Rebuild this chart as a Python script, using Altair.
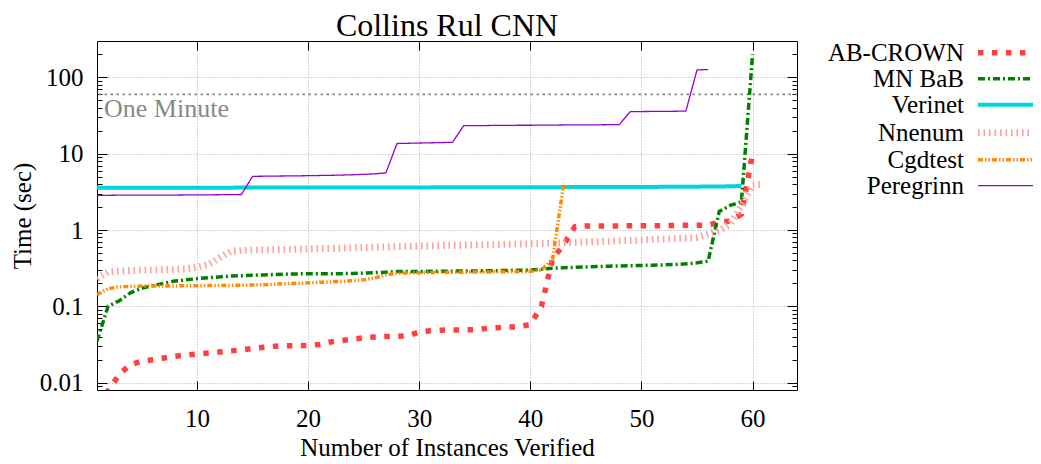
import altair as alt
import pandas as pd

TITLE = "Collins Rul CNN"
X_TITLE = "Number of Instances Verified"
Y_TITLE = "Time (sec)"
SERIES = ["AB-CROWN", "MN BaB", "Verinet", "Nnenum", "Cgdtest", "Peregrinn"]

AB_CROWN = [0.0052, 0.0078, 0.0128, 0.0172, 0.0190, 0.0199, 0.0210, 0.0221, 0.0230, 0.0237,
            0.0244, 0.0252, 0.0260, 0.0268, 0.0280, 0.0291, 0.0300, 0.0304, 0.0306, 0.0307,
            0.0316, 0.0340, 0.0356, 0.0371, 0.0386, 0.0397, 0.0402, 0.0405, 0.0412, 0.0460,
            0.0478, 0.0487, 0.0490, 0.0491, 0.0495, 0.0510, 0.0525, 0.0533, 0.0540, 0.0580,
            0.100, 0.420, 0.640, 1.10, 1.13, 1.13, 1.13, 1.13, 1.14, 1.14,
            1.14, 1.14, 1.15, 1.15, 1.15, 1.16, 1.26, 1.31, 1.62, 10.0]
MN_BAB = [0.035, 0.100, 0.118, 0.150, 0.172, 0.186, 0.200, 0.214, 0.222, 0.230,
          0.237, 0.243, 0.249, 0.252, 0.255, 0.258, 0.261, 0.264, 0.266, 0.267,
          0.267, 0.267, 0.268, 0.270, 0.272, 0.276, 0.280, 0.285, 0.286, 0.286,
          0.287, 0.288, 0.289, 0.290, 0.291, 0.292, 0.293, 0.295, 0.297, 0.300,
          0.306, 0.316, 0.320, 0.324, 0.328, 0.332, 0.335, 0.338, 0.340, 0.343,
          0.346, 0.349, 0.353, 0.360, 0.372, 0.390, 1.75, 2.10, 2.35, 200.0]
VERINET = [3.57, 3.57, 3.57, 3.58, 3.58, 3.58, 3.58, 3.58, 3.59, 3.59,
           3.59, 3.59, 3.59, 3.60, 3.60, 3.60, 3.60, 3.60, 3.60, 3.61,
           3.61, 3.61, 3.61, 3.61, 3.61, 3.62, 3.62, 3.62, 3.62, 3.62,
           3.62, 3.63, 3.63, 3.63, 3.63, 3.63, 3.63, 3.64, 3.64, 3.64,
           3.64, 3.64, 3.65, 3.65, 3.65, 3.65, 3.66, 3.66, 3.66, 3.67,
           3.67, 3.68, 3.68, 3.69, 3.70, 3.71, 3.72, 3.74, 3.78]
NNENUM = [0.230, 0.282, 0.290, 0.294, 0.297, 0.300, 0.302, 0.305, 0.310, 0.325,
          0.352, 0.430, 0.520, 0.540, 0.545, 0.549, 0.553, 0.556, 0.560, 0.565,
          0.569, 0.574, 0.579, 0.584, 0.590, 0.595, 0.600, 0.605, 0.610, 0.615,
          0.620, 0.625, 0.630, 0.634, 0.638, 0.642, 0.646, 0.650, 0.655, 0.660,
          0.665, 0.672, 0.683, 0.690, 0.697, 0.705, 0.713, 0.722, 0.731, 0.740,
          0.750, 0.760, 0.770, 0.780, 0.800, 0.880, 0.980, 1.200, 2.100, 3.900,
          4.000]
CGDTEST = [0.142, 0.170, 0.180, 0.183, 0.184, 0.185, 0.185, 0.185, 0.186, 0.186,
           0.187, 0.187, 0.188, 0.189, 0.190, 0.192, 0.195, 0.198, 0.200, 0.203,
           0.206, 0.209, 0.212, 0.216, 0.222, 0.236, 0.258, 0.271, 0.274, 0.276,
           0.277, 0.278, 0.279, 0.280, 0.281, 0.282, 0.283, 0.284, 0.285, 0.287,
           0.300, 0.410, 4.00]
PEREGRINN = [2.85, 2.85, 2.86, 2.86, 2.86, 2.87, 2.87, 2.87, 2.88, 2.88,
             2.89, 2.90, 2.91, 2.92, 5.05, 5.07, 5.09, 5.11, 5.13, 5.15,
             5.18, 5.21, 5.25, 5.30, 5.36, 5.45, 5.60, 13.6, 13.7, 13.8,
             13.9, 14.0, 14.1, 23.3, 23.4, 23.4, 23.5, 23.5, 23.6, 23.6,
             23.7, 23.7, 23.8, 23.8, 23.9, 23.9, 24.0, 24.1, 35.6, 35.7,
             35.8, 35.9, 36.0, 36.2, 125.0, 127.0]

X_TICKS = [10, 20, 30, 40, 50, 60]
Y_TICKS = [0.01, 0.1, 1, 10, 100]
Y_MINOR = [0.009] + [m * 10.0 ** k for k in (-2, -1, 0, 1) for m in range(2, 10)] + [200]
X_DOMAIN = [1, 64]
Y_DOMAIN = [0.008, 300]
ONE_MINUTE = 60
ONE_MINUTE_LABEL = "One Minute"

COLORS = ["#ff4040", "#008000", "#00d4dc", "#ffa0a0", "#ff8c00", "#9400d3"]
DASHES = [[5.5, 8.5], [7, 3, 2, 3], [1, 0], [1.6, 3.9], [5, 2, 1.5, 2, 1.5, 2], [1, 0]]
WIDTHS = [5.5, 3.5, 4, 7, 3.5, 1.3]

FONT = "Liberation Serif"
W, H = 700, 349

series_values = [AB_CROWN, MN_BAB, VERINET, NNENUM, CGDTEST, PEREGRINN]
rows = []
for name, vals in zip(SERIES, series_values):
    for i, v in enumerate(vals):
        rows.append({"series": name, "x": i + 1, "t": v})
df = pd.DataFrame(rows)

xs = alt.Scale(domain=X_DOMAIN, nice=False, zero=False)
ys = alt.Scale(type="log", domain=Y_DOMAIN, nice=False)

def inner_axis(orient, offset, values, size):
    return alt.Axis(orient=orient, offset=offset, values=values, labels=False, ticks=True,
                    tickSize=size, tickColor="black", tickWidth=1, domain=False, grid=False, title=None)

# legend: custom stroke symbol 8 units long, so entries stay font-height tall
sym_w = 62
sym_unit = sym_w / 4.0
entry = 25
leg_x = (978 - 97) - (entry / 2 - sym_w / 2)
lab_off = (964 - 97) - leg_x - entry
legend = alt.Legend(title=None, orient="none", legendX=leg_x,
                    legendY=11.7 - entry / 2, labelAlign="right", labelOffset={"expr": str(lab_off)},
                    symbolType="M-4,0H4", symbolSize=sym_unit * sym_unit, rowPadding=0,
                    padding=0, labelFont=FONT, labelFontSize=25, labelColor="black", labelLimit=400)

lines = alt.Chart(df).mark_line(clip=True, strokeCap="butt").encode(
    x=alt.X("x:Q", scale=xs, axis=alt.Axis(values=X_TICKS, title=X_TITLE, grid=True, ticks=False,
                                           domain=False, labelPadding=16, titlePadding=4)),
    y=alt.Y("t:Q", scale=ys, axis=alt.Axis(values=Y_TICKS, format="~g", title=Y_TITLE, grid=True,
                                           ticks=False, domain=False, labelPadding=14, titlePadding=4)),
    color=alt.Color("series:N", scale=alt.Scale(domain=SERIES, range=COLORS), legend=legend),
    strokeDash=alt.StrokeDash("series:N", scale=alt.Scale(domain=SERIES, range=DASHES), legend=legend),
    strokeWidth=alt.StrokeWidth("series:N", scale=alt.Scale(type="ordinal", domain=SERIES, range=WIDTHS),
                                legend=legend),
)

minute_df = pd.DataFrame({"x": [X_DOMAIN[0]], "t": [ONE_MINUTE], "label": [ONE_MINUTE_LABEL]})

rule = alt.Chart(minute_df).mark_rule(color="#888888", strokeDash=[2.5, 3.5], strokeWidth=1.8).encode(
    y=alt.Y("t:Q", scale=ys, axis=inner_axis("right", -W, Y_TICKS, 10)),
)
label = alt.Chart(minute_df).mark_text(align="left", baseline="alphabetic", dx=7, dy=23, font=FONT,
                                       fontSize=26, color="#888888").encode(
    x=alt.X("x:Q", scale=xs, axis=inner_axis("top", -H, X_TICKS, 9)),
    y=alt.Y("t:Q", scale=ys, axis=inner_axis("left", -W, Y_TICKS, 10)),
    text="label:N",
)
pts1 = alt.Chart(df).mark_point(opacity=0, clip=True).encode(
    x=alt.X("x:Q", scale=xs, axis=inner_axis("bottom", -H, X_TICKS, 9)),
    y=alt.Y("t:Q", scale=ys, axis=inner_axis("right", -W, Y_MINOR, 5)),
)
pts2 = alt.Chart(df).mark_point(opacity=0, clip=True).encode(
    x=alt.X("x:Q", scale=xs, axis=None),
    y=alt.Y("t:Q", scale=ys, axis=inner_axis("left", -W, Y_MINOR, 5)),
)

chart = alt.layer(rule, label, lines, pts1, pts2).resolve_axis(
    x="independent", y="independent"
).properties(
    width=W, height=H,
    autosize=alt.AutoSizeParams(type="none"),
    padding={"left": 89, "top": 33, "right": 236, "bottom": 72},
    title=alt.TitleParams(TITLE, font=FONT, fontSize=32, fontWeight="normal", color="black",
                          anchor="middle", offset=0, dy=2.6),
).configure_view(stroke="black", strokeWidth=1).configure_axis(
    labelFont=FONT, titleFont=FONT, labelFontSize=25, titleFontSize=25, labelColor="black",
    titleColor="black", titleFontWeight="normal", gridColor="#a8a8a8", gridDash=[1, 2], gridWidth=1,
)

chart.save("out.html", embed_options={"renderer": "svg", "actions": False})
